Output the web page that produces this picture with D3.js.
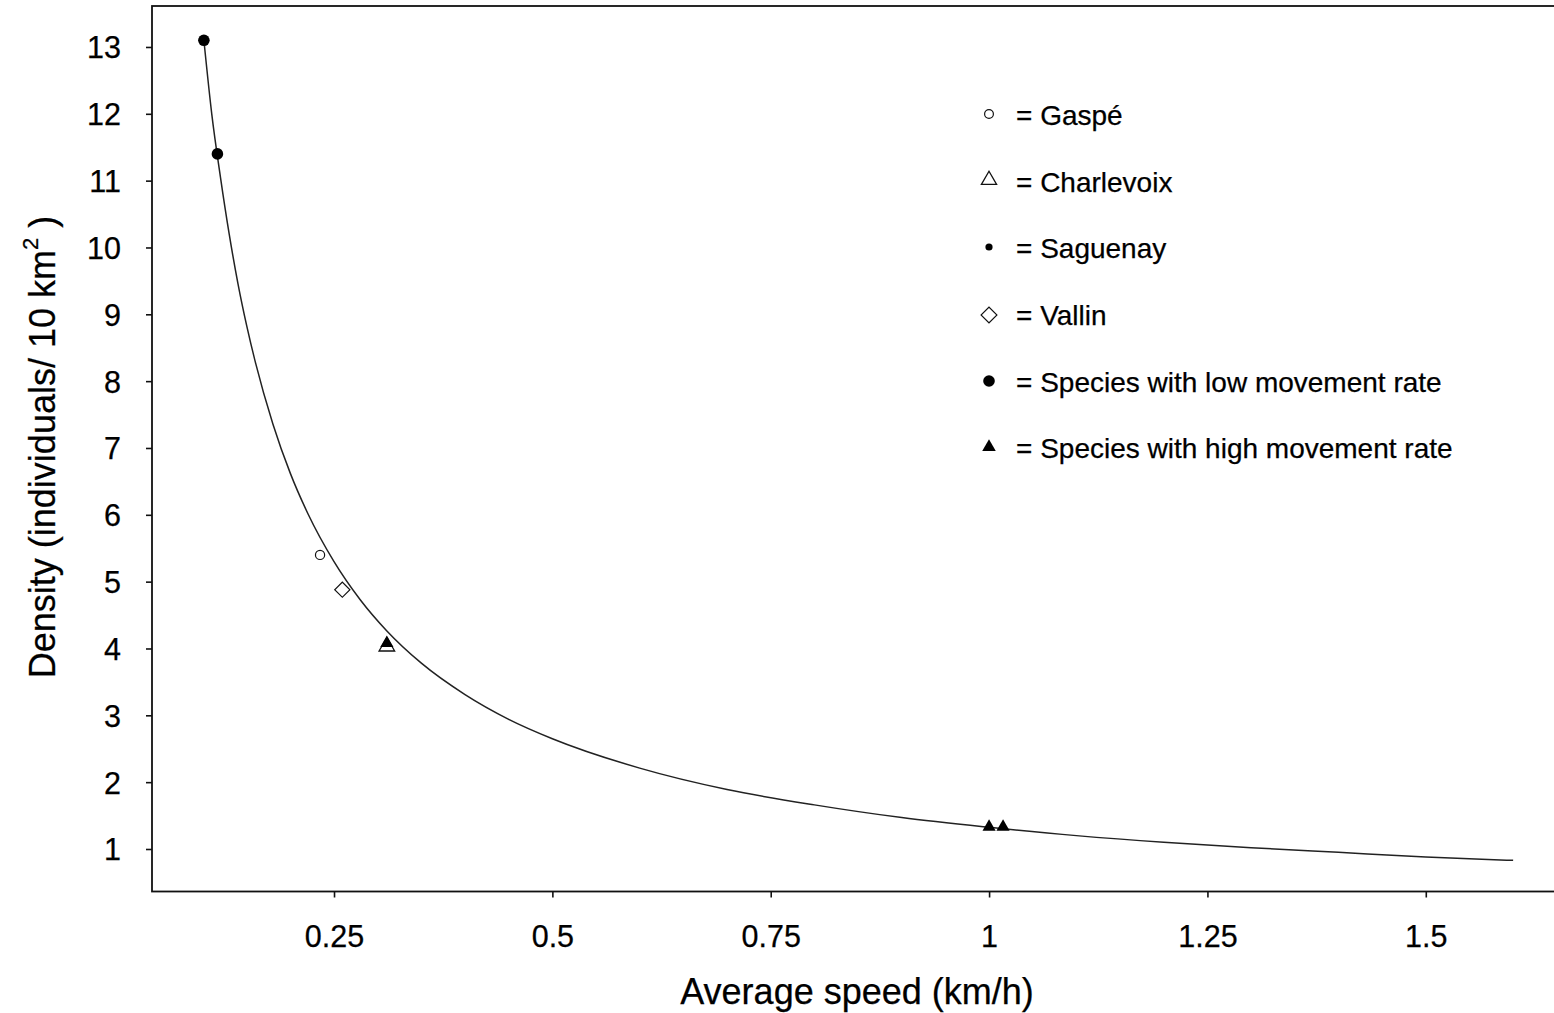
<!DOCTYPE html>
<html>
<head>
<meta charset="utf-8">
<script src="https://cdn.jsdelivr.net/npm/d3@7"></script>
<style>
  html, body { margin: 0; padding: 0; background: #fff; }
  svg { display: block; font-family: "Liberation Sans", Arial, sans-serif; }
</style>
</head>
<body>
<svg id="chart" width="1554" height="1013"></svg>
<script>
// ---- data ----
const xTicks = [0.25, 0.5, 0.75, 1, 1.25, 1.5];
const xTickLabels = ["0.25", "0.5", "0.75", "1", "1.25", "1.5"];
const yTicks = [1, 2, 3, 4, 5, 6, 7, 8, 9, 10, 11, 12, 13];

// fitted curve, points [speed, density]
const curveSpeed   = [0.101, 0.11, 0.12, 0.13, 0.14, 0.15, 0.16, 0.18, 0.20, 0.22, 0.25, 0.28, 0.31, 0.35, 0.40, 0.45, 0.50, 0.60, 0.70, 0.80, 0.90, 1.00, 1.10, 1.20, 1.30, 1.40, 1.50, 1.60];
const curveDensity = [13.1, 12.0, 11.05, 10.2, 9.46, 8.83, 8.28, 7.36, 6.62, 6.02, 5.30, 4.73, 4.27, 3.78, 3.31, 2.94, 2.65, 2.21, 1.89, 1.66, 1.47, 1.325, 1.20, 1.10, 1.02, 0.95, 0.88, 0.83];

const gaspe       = [[0.234, 5.40]];
const charlevoix  = [[0.3105, 4.03]];
const vallin      = [[0.2595, 4.88]];
const lowMovement = [[0.101, 13.1], [0.1165, 11.4]];
const highMovement = [[0.3105, 4.08], [1.0, 1.33], [1.016, 1.33]];

const legendLabels = ["= Gaspé", "= Charlevoix", "= Saguenay", "= Vallin",
  "= Species with low movement rate", "= Species with high movement rate"];

// ---- drawing ----
const svg = d3.select("#chart");
const x = d3.scaleLinear().domain([0.0416, 1.65]).range([152, 1556.8]);
const y = d3.scaleLinear().domain([0.364, 13.613]).range([891.5, 6]);

// frame
svg.append("rect")
  .attr("x", x.range()[0]).attr("y", y.range()[1])
  .attr("width", x.range()[1] - x.range()[0])
  .attr("height", y.range()[0] - y.range()[1])
  .attr("fill", "none").attr("stroke", "#111").attr("stroke-width", 1.8);

// axes
const xAxis = d3.axisBottom(x).tickValues(xTicks)
  .tickFormat((d, i) => xTickLabels[i]).tickSize(6).tickSizeOuter(0);
const gx = svg.append("g").attr("transform", `translate(0,${y.range()[0]})`).call(xAxis);
gx.select(".domain").remove();
gx.selectAll("line").attr("stroke", "#111").attr("stroke-width", 1.6);
gx.selectAll("text").attr("font-size", 30.5).attr("fill", "#000")
  .attr("stroke", "#000").attr("stroke-width", 0.25)
  .attr("dy", null).attr("y", 55);

const yAxis = d3.axisLeft(y).tickValues(yTicks).tickSize(6).tickSizeOuter(0);
const gy = svg.append("g").attr("transform", `translate(${x.range()[0]},0)`).call(yAxis);
gy.select(".domain").remove();
gy.selectAll("line").attr("stroke", "#111").attr("stroke-width", 1.6);
gy.selectAll("text").attr("font-size", 30.5).attr("fill", "#000")
  .attr("stroke", "#000").attr("stroke-width", 0.25)
  .attr("x", -31).attr("dy", "0.36em");

// axis titles
svg.append("text").attr("x", 857).attr("y", 1004)
  .attr("text-anchor", "middle").attr("font-size", 36).attr("fill", "#000")
  .attr("stroke", "#000").attr("stroke-width", 0.25)
  .text("Average speed (km/h)");

const yt = svg.append("text")
  .attr("transform", "translate(55,447) rotate(-90)")
  .attr("text-anchor", "middle").attr("font-size", 36).attr("fill", "#000")
  .attr("stroke", "#000").attr("stroke-width", 0.25);
yt.append("tspan").text("Density (individuals/  10 km");
yt.append("tspan").attr("font-size", 22).attr("dy", -17).text("2");
yt.append("tspan").attr("dy", 17).text(" )");

// curve
const pts = curveSpeed.map((v, i) => [v, curveDensity[i]]);
svg.append("path").datum(pts)
  .attr("fill", "none").attr("stroke", "#222").attr("stroke-width", 1.5)
  .attr("d", d3.line().x(d => x(d[0])).y(d => y(d[1])).curve(d3.curveMonotoneX));

// symbols
const triOpen = d3.symbol().type(d3.symbolTriangle).size(105);
const triFill = d3.symbol().type(d3.symbolTriangle).size(75);
const diamond = d3.symbol().type(d3.symbolSquare).size(115);

svg.selectAll(".charl").data(charlevoix).join("path")
  .attr("transform", d => `translate(${x(d[0])},${y(d[1])})`)
  .attr("d", triOpen()).attr("fill", "#fff").attr("stroke", "#111").attr("stroke-width", 1.3);

svg.selectAll(".gaspe").data(gaspe).join("circle")
  .attr("cx", d => x(d[0])).attr("cy", d => y(d[1])).attr("r", 4.6)
  .attr("fill", "#fff").attr("stroke", "#111").attr("stroke-width", 1.2);

svg.selectAll(".vallin").data(vallin).join("path")
  .attr("transform", d => `translate(${x(d[0])},${y(d[1])}) rotate(45)`)
  .attr("d", diamond()).attr("fill", "#fff").attr("stroke", "#111").attr("stroke-width", 1.2);

svg.selectAll(".low").data(lowMovement).join("circle")
  .attr("cx", d => x(d[0])).attr("cy", d => y(d[1])).attr("r", 5.8)
  .attr("fill", "#000");

svg.selectAll(".high").data(highMovement).join("path")
  .attr("transform", d => `translate(${x(d[0])},${y(d[1])})`)
  .attr("d", triFill()).attr("fill", "#000");

// legend
const lg = svg.append("g");
const lx = 989, baseY = [125, 192, 258, 325, 392, 458];
const symY = [114, 180, 247, 315, 381, 447];
lg.append("circle").attr("cx", lx).attr("cy", symY[0]).attr("r", 4.4)
  .attr("fill", "#fff").attr("stroke", "#111").attr("stroke-width", 1.2);
lg.append("path").attr("transform", `translate(${lx},${symY[1]})`)
  .attr("d", d3.symbol().type(d3.symbolTriangle).size(100)())
  .attr("fill", "#fff").attr("stroke", "#111").attr("stroke-width", 1.3);
lg.append("circle").attr("cx", lx).attr("cy", symY[2]).attr("r", 3.6).attr("fill", "#000");
lg.append("path").attr("transform", `translate(${lx},${symY[3]}) rotate(45)`)
  .attr("d", d3.symbol().type(d3.symbolSquare).size(125)())
  .attr("fill", "#fff").attr("stroke", "#111").attr("stroke-width", 1.2);
lg.append("circle").attr("cx", lx).attr("cy", symY[4]).attr("r", 5.8).attr("fill", "#000");
lg.append("path").attr("transform", `translate(${lx},${symY[5]})`)
  .attr("d", d3.symbol().type(d3.symbolTriangle).size(80)()).attr("fill", "#000");

lg.selectAll("text.lab").data(legendLabels).join("text")
  .attr("class", "lab").attr("x", 1016).attr("y", (d, i) => baseY[i])
  .attr("font-size", 28).attr("fill", "#000")
  .attr("stroke", "#000").attr("stroke-width", 0.25)
  .text(d => d);
</script>
</body>
</html>
